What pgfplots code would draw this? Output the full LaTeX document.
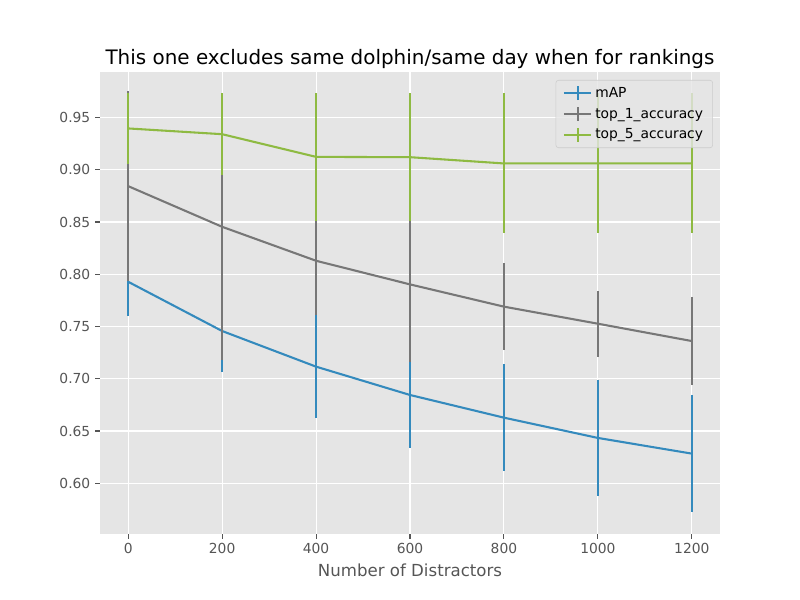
\documentclass[border=0pt]{standalone}
\usepackage{fontspec}
\setmainfont{DejaVu Sans}
\usepackage{pgfplots}
\pgfplotsset{compat=1.18}
\definecolor{bg}{HTML}{E5E5E5}
\definecolor{tickgray}{HTML}{555555}
\definecolor{mapblue}{HTML}{348ABD}
\definecolor{topgray}{HTML}{777777}
\definecolor{topgreen}{HTML}{8EBA42}
\begin{document}
\begin{tikzpicture}
\path[use as bounding box] (-72.27pt,-47.70pt) rectangle (505.89pt,385.92pt);
\begin{axis}[
  at={(0pt,0pt)}, anchor=south west,
  scale only axis, width=448.07pt, height=333.89pt,
  xmin=-60, xmax=1260, ymin=0.5515, ymax=0.9935,
  axis background/.style={fill=bg},
  axis line style={draw=none},
  grid=major, major grid style={white, line width=0.8pt},
  tick align=outside, xtick pos=bottom, ytick pos=left,
  tick style={color=tickgray, line width=0.8pt},
  major tick length=3.5pt,
  xtick={0,200,400,600,800,1000,1200},
  ytick={0.60,0.65,0.70,0.75,0.80,0.85,0.90,0.95},
  xticklabel style={/pgf/number format/.cd, 1000 sep={}},
  yticklabel style={/pgf/number format/.cd, fixed, fixed zerofill, precision=2},
  /pgf/number format/assume math mode=true,
  ticklabel style={font=\fontsize{10}{12}\selectfont, text=tickgray},
  xlabel={Number of Distractors},
  xlabel style={font=\fontsize{12}{14}\selectfont, text=tickgray},
  title={This one excludes same dolphin/same day when for rankings},
  title style={font=\fontsize{14.4}{17}\selectfont, yshift=-7pt},
  legend style={at={(0.9887,0.9827)}, anchor=north east, fill=bg, fill opacity=0.8, text opacity=1, draw=black!20, rounded corners=2pt, font=\fontsize{10}{12}\selectfont, row sep=2.2pt, inner xsep=5pt, inner ysep=3pt},
  legend cell align=left,
  every axis plot/.append style={line width=1.5pt, legend image code/.code={\draw[##1] (0pt,0pt) -- (20pt,0pt); \draw[##1] (10pt,-5pt) -- (10pt,5pt);}},
]
\addplot[color=mapblue, error bars/.cd, y dir=both, y explicit, error mark=none, error bar style={line width=1.5pt}] coordinates {
(0,0.7928) +- (0,0.033)
(200,0.7457) +- (0,0.039)
(400,0.7116) +- (0,0.0494)
(600,0.6845) +- (0,0.051)
(800,0.6628) +- (0,0.0515)
(1000,0.6434) +- (0,0.0553)
(1200,0.6284) +- (0,0.0562)
};
\addlegendentry{mAP}
\addplot[color=topgray, error bars/.cd, y dir=both, y explicit, error mark=none, error bar style={line width=1.5pt}] coordinates {
(0,0.8843) +- (0,0.091)
(200,0.8454) +- (0,0.127)
(400,0.8129) +- (0,0.052)
(600,0.7903) +- (0,0.074)
(800,0.7690) +- (0,0.0415)
(1000,0.7527) +- (0,0.0315)
(1200,0.7361) +- (0,0.042)
};
\addlegendentry{top\_1\_accuracy}
\addplot[color=topgreen, error bars/.cd, y dir=both, y explicit, error mark=none, error bar style={line width=1.5pt}] coordinates {
(0,0.9395) +- (0,0.034)
(200,0.9340) +- (0,0.039)
(400,0.9123) +- (0,0.061)
(600,0.9120) +- (0,0.061)
(800,0.9060) +- (0,0.067)
(1000,0.9060) +- (0,0.067)
(1200,0.9060) +- (0,0.067)
};
\addlegendentry{top\_5\_accuracy}
\end{axis}
\end{tikzpicture}
\end{document}
